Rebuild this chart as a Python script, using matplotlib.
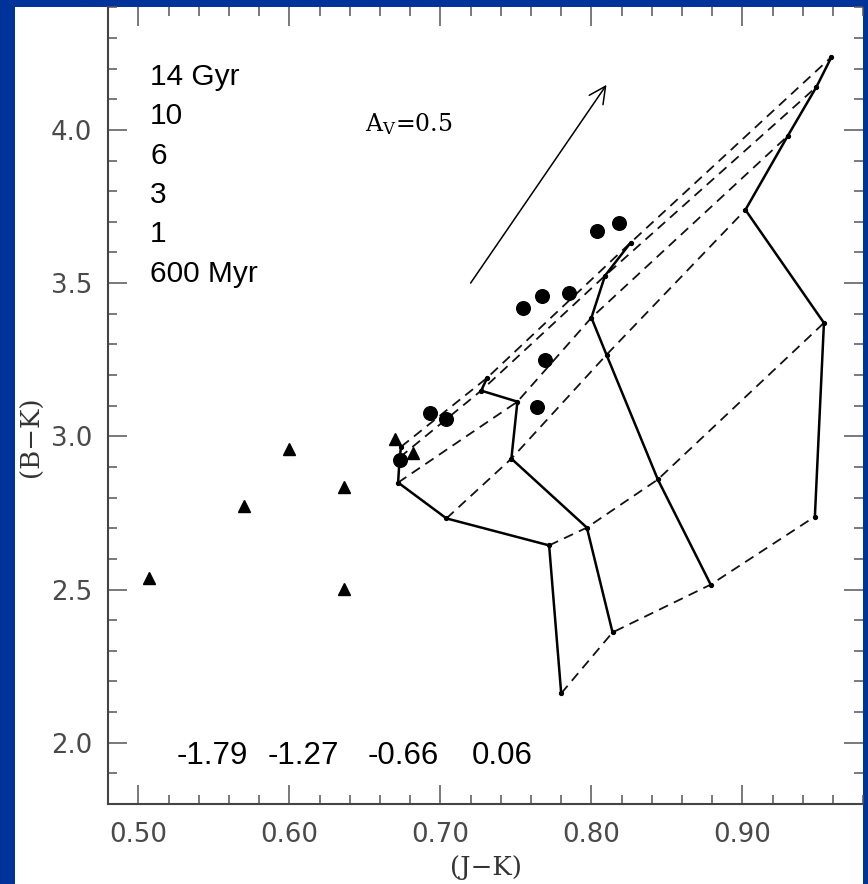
import matplotlib
matplotlib.use("Agg")
import matplotlib.pyplot as plt
from matplotlib.patches import Rectangle
from matplotlib.ticker import MultipleLocator, FormatStrFormatter

# ---- model grid: (J-K), (B-K) along each metallicity track, ages 14,10,6,3,1,0.6 Gyr
ages = ["14 Gyr", "10", "6", "3", "1", "600 Myr"]
metallicities = ["-1.79", "-1.27", "-0.66", "0.06"]

jk_m179 = [0.674, 0.673, 0.672, 0.704, 0.772, 0.780]
bk_m179 = [2.966, 2.931, 2.849, 2.732, 2.644, 2.161]
jk_m127 = [0.731, 0.727, 0.751, 0.747, 0.797, 0.814]
bk_m127 = [3.191, 3.149, 3.113, 2.927, 2.702, 2.360]
jk_m066 = [0.826, 0.809, 0.800, 0.810, 0.844, 0.879]
bk_m066 = [3.632, 3.524, 3.387, 3.266, 2.859, 2.516]
jk_p006 = [0.959, 0.949, 0.930, 0.902, 0.954, 0.948]
bk_p006 = [4.238, 4.140, 3.980, 3.739, 3.370, 2.738]

# ---- observed clusters
circ_jk = [0.673, 0.693, 0.704, 0.755, 0.767, 0.785, 0.769, 0.764, 0.804, 0.818]
circ_bk = [2.924, 3.077, 3.058, 3.420, 3.459, 3.469, 3.250, 3.094, 3.671, 3.697]
tri_jk = [0.507, 0.570, 0.600, 0.636, 0.636, 0.670, 0.682]
tri_bk = [2.536, 2.771, 2.957, 2.836, 2.503, 2.992, 2.944]

# ---- reddening vector for A_V = 0.5
arrow_tail = (0.720, 3.500)
arrow_head = (0.810, 4.147)

plt.rcParams["mathtext.fontset"] = "dejavuserif"

W, H = 868, 884
fig = plt.figure(figsize=(W / 100, H / 100), dpi=100)
fig.patch.set_facecolor("#003399")
fig.add_artist(Rectangle((15 / W, 0), 848 / W, 877 / H, transform=fig.transFigure,
                         facecolor="white", edgecolor="none", zorder=-5))

ax = fig.add_axes([108.2 / W, 80 / H, 755 / W, 796.7 / H])
ax.set_facecolor("white")
ax.set_xlim(0.48, 0.98)
ax.set_ylim(1.8, 4.4)

tracks = [(jk_m179, bk_m179), (jk_m127, bk_m127), (jk_m066, bk_m066), (jk_p006, bk_p006)]

# solid lines: constant metallicity
for jk, bk in tracks:
    ax.plot(jk, bk, color="black", lw=1.8, marker="o", ms=2.8, zorder=3)

# dashed lines: constant age
for i in range(len(ages)):
    ax.plot([t[0][i] for t in tracks], [t[1][i] for t in tracks], color="#111111",
            lw=1.3, linestyle=(0, (5.5, 3.6)), zorder=2)

ax.plot(circ_jk, circ_bk, "o", color="black", ms=9.8, zorder=5)
ax.plot(tri_jk, tri_bk, "^", color="black", ms=8, zorder=5)

ax.annotate("", xy=arrow_head, xytext=arrow_tail,
            arrowprops=dict(arrowstyle="->,head_length=0.6,head_width=0.3",
                            lw=1.1, color="black", shrinkA=0, shrinkB=0,
                            mutation_scale=20))
ax.text(0.650, 3.995, r"A$_\mathrm{V}$=0.5", fontsize=17, family="DejaVu Serif",
        va="baseline", ha="left", color="black")

for i, lab in enumerate(ages):
    ax.text(0.5077, 4.147 - i * 0.1286, lab, fontsize=21.5, family="Liberation Sans",
            va="baseline", ha="left", color="black")

met_x = [0.5489, 0.6090, 0.6752, 0.7408]
for x, lab in zip(met_x, metallicities):
    ax.text(x, 1.930, lab, fontsize=22.5, family="Liberation Sans",
            va="baseline", ha="center", color="black")

# axes styling
ax.xaxis.set_major_locator(MultipleLocator(0.1))
ax.xaxis.set_minor_locator(MultipleLocator(0.02))
ax.yaxis.set_major_locator(MultipleLocator(0.5))
ax.yaxis.set_minor_locator(MultipleLocator(0.1))
ax.xaxis.set_major_formatter(FormatStrFormatter("%.2f"))
ax.yaxis.set_major_formatter(FormatStrFormatter("%.1f"))
ax.tick_params(which="both", direction="in", top=True, right=True, color="#555555")
ax.tick_params(which="major", length=13.5, width=1.1, labelsize=18.7,
               labelcolor="#4a4a4a")
ax.tick_params(axis="x", which="major", pad=13)
ax.tick_params(axis="y", which="major", pad=11.5)
ax.tick_params(which="minor", length=6.8, width=1.1)
for side in ("top", "right"):
    ax.spines[side].set_visible(False)
for side in ("left", "bottom"):
    ax.spines[side].set_color("#444444")
    ax.spines[side].set_linewidth(1.5)

ax.set_xlabel("(J\u2212K)", family="DejaVu Serif", fontsize=18.7, color="#333333")
ax.set_ylabel("(B\u2212K)", family="DejaVu Serif", fontsize=18.7, color="#333333")
ax.xaxis.set_label_coords(0.5004, -0.0803)
ax.xaxis.label.set_va("center")
ax.yaxis.set_label_coords(-0.1023, 0.4607)
ax.yaxis.label.set_va("center")
ax.yaxis.label.set_rotation_mode("default")

fig.savefig("out.png", dpi=100, facecolor=fig.get_facecolor())
